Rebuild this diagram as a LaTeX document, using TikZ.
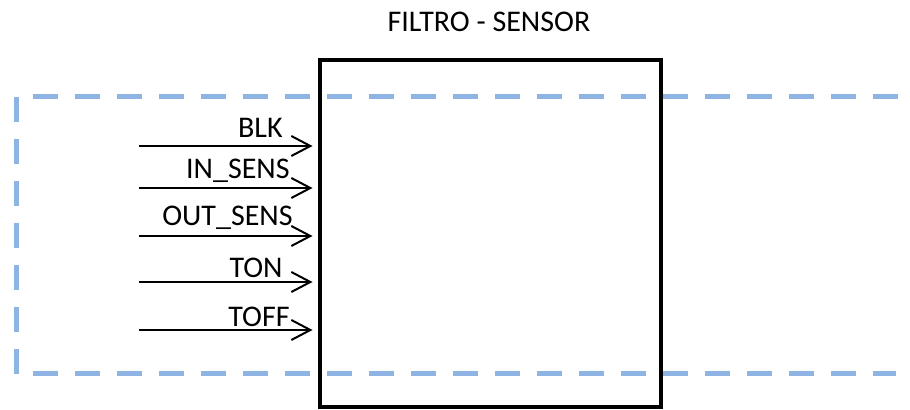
\documentclass[tikz,border=0pt]{standalone}
\usepackage{fontspec}
\setmainfont{Carlito}
\usetikzlibrary{arrows.meta}
\definecolor{dashblue}{RGB}{141,180,226}
\begin{document}
\begin{tikzpicture}[x=0.5pt,y=-0.5pt,
  lbl/.style={font=\fontsize{15}{17}\selectfont, inner sep=0pt, anchor=base east, text=black},
  sig/.style={line width=1pt, -{Straight Barb[length=9.5pt,width=10pt,line width=1pt]}, shorten >=2.5pt},
  frame/.style={draw=dashblue, line width=2.5pt, dash pattern=on 12.5pt off 8.5pt},
  block/.style={draw=black, line width=2pt, minimum width=170.75pt, minimum height=173.5pt, inner sep=0pt}]
\useasboundingbox (0,0) rectangle (910,410);
\coordinate (tl) at (16,97);
\coordinate (bl) at (16,374);
\coordinate (tr) at (900,97);
\coordinate (br) at (896,374);
\draw[frame] (tl) -- (bl);
\draw[frame, dash phase=12.5pt] (tl) -- (tr);
\draw[frame, dash phase=12.5pt] (bl) -- (br);
\node[block] (box) at (490.25,233.5) {};
\node[font=\fontsize{15}{17}\selectfont, inner sep=0pt, anchor=base] (title) at (489,32) {FILTRO - SENSOR};
\coordinate (s1) at (139,146);
\coordinate (s2) at (139,188);
\coordinate (s3) at (139,236);
\coordinate (s4) at (139,282);
\coordinate (s5) at (139,330);
\draw[sig] (s1) -- (s1 -| box.west);
\draw[sig] (s2) -- (s2 -| box.west);
\draw[sig] (s3) -- (s3 -| box.west);
\draw[sig] (s4) -- (s4 -| box.west);
\draw[sig] (s5) -- (s5 -| box.west);
\node[lbl] (l1) at (283,138) {BLK};
\node[lbl] (l2) at (290,179) {IN\_SENS};
\node[lbl] (l3) at (293,226) {OUT\_SENS};
\node[lbl] (l4) at (283,278) {TON};
\node[lbl] (l5) at (290,327) {TOFF};
\end{tikzpicture}
\end{document}
